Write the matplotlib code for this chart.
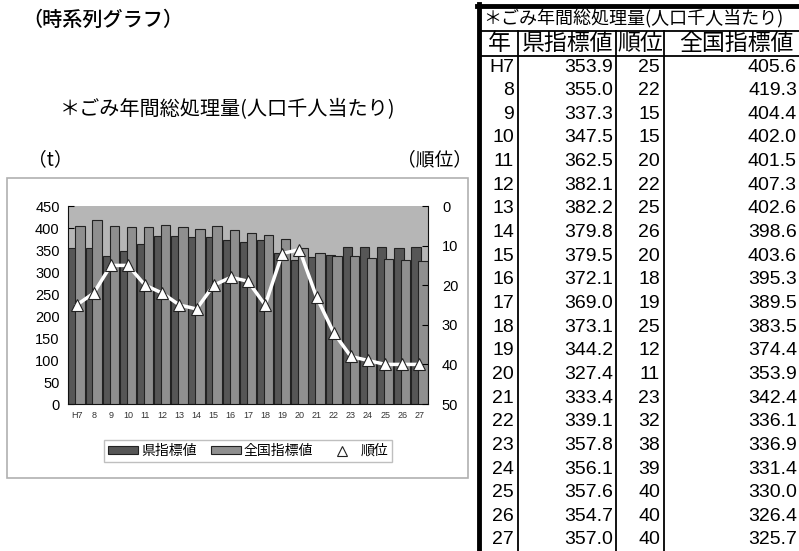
import matplotlib.pyplot as plt
from matplotlib.patches import Rectangle
from matplotlib.lines import Line2D
import numpy as np

plt.rcParams['font.family'] = ['Liberation Sans', 'Noto Sans CJK JP', 'DejaVu Sans']

years = ["H7", "8", "9", "10", "11", "12", "13", "14", "15", "16", "17",
         "18", "19", "20", "21", "22", "23", "24", "25", "26", "27"]
pref = [353.9, 355.0, 337.3, 347.5, 362.5, 382.1, 382.2, 379.8, 379.5, 372.1, 369.0,
        373.1, 344.2, 327.4, 333.4, 339.1, 357.8, 356.1, 357.6, 354.7, 357.0]
rank = [25, 22, 15, 15, 20, 22, 25, 26, 20, 18, 19,
        25, 12, 11, 23, 32, 38, 39, 40, 40, 40]
national = [405.6, 419.3, 404.4, 402.0, 401.5, 407.3, 402.6, 398.6, 403.6, 395.3, 389.5,
            383.5, 374.4, 353.9, 342.4, 336.1, 336.9, 331.4, 330.0, 326.4, 325.7]

W, H = 799, 551
fig = plt.figure(figsize=(W / 100, H / 100), dpi=100)


def fx(x):
    return x / W


def fy(y):
    return 1 - y / H


cjk = ['Noto Sans CJK JP', 'DejaVu Sans']

# headings
fig.text(fx(22), fy(20), "（時系列グラフ）", fontsize=14.5, family=cjk, va='center', weight='medium')
fig.text(fx(60), fy(110), "＊ごみ年間総処理量(人口千人当たり)", fontsize=14.5, family=cjk, va='center')
fig.text(fx(28), fy(160), "（t）", fontsize=13.5, family=cjk, va='center')
fig.text(fx(472), fy(160), "（順位）", fontsize=13.5, family=cjk, va='center', ha='right')

# chart frame
fig.patches.append(Rectangle((fx(7), fy(478)), fx(468) - fx(7), fy(178) - fy(478),
                             transform=fig.transFigure, fill=False, ec='#b0b0b0', lw=1.2))

ax = fig.add_axes([fx(68), fy(404), fx(428) - fx(68), fy(206) - fy(404)])
ax.set_facecolor('#b6b6b6')
x = np.arange(len(years))
ax.bar(x - 0.2, pref, width=0.55, color='#565656', edgecolor='#222222', lw=0.8, zorder=2)
ax.bar(x + 0.2, national, width=0.55, color='#8f8f8f', edgecolor='#222222', lw=0.8, zorder=3)
ax.set_xlim(-0.5, len(years) - 0.5)
ax.set_ylim(0, 450)
ax.set_yticks(range(0, 451, 50))
ax.set_xticks(x)
ax.set_xticklabels(years, fontsize=6.5, color='#333333')
ax.tick_params(axis='y', direction='in', length=4, labelsize=10.5, pad=6)
ax.tick_params(axis='x', length=0, pad=5)
for s in ['top', 'right']:
    ax.spines[s].set_visible(False)
ax.spines['left'].set_color('#111111')
ax.spines['bottom'].set_color('#111111')

ax2 = ax.twinx()
ax2.plot(x, rank, color='white', lw=2.5, marker='^', markersize=9,
         markerfacecolor='white', markeredgecolor='#222222', markeredgewidth=0.8, zorder=5)
ax2.set_ylim(50, 0)
ax2.set_yticks(range(0, 51, 10))
ax2.tick_params(axis='y', direction='in', length=4, labelsize=10.5, pad=10)
for s in ['top', 'left', 'bottom']:
    ax2.spines[s].set_visible(False)
ax2.spines['right'].set_color('#111111')

handles = [Rectangle((0, 0), 1, 1, fc='#565656', ec='#222222', lw=0.8),
           Rectangle((0, 0), 1, 1, fc='#8f8f8f', ec='#222222', lw=0.8),
           Line2D([], [], ls='none', marker='^', markersize=7, mfc='white', mec='#222222', mew=0.8)]
leg = fig.legend(handles, ["県指標値", "全国指標値", "順位"], loc='center',
                 bbox_to_anchor=(fx(248), fy(451)), ncol=3, frameon=True, fancybox=False,
                 prop={'family': cjk, 'size': 10}, handlelength=2.2, handleheight=0.5,
                 columnspacing=1.0, handletextpad=0.2, borderpad=0.3)
leg.get_frame().set_edgecolor('#b0b0b0')
leg.get_frame().set_linewidth(1.0)

# table
tl = dict(transform=fig.transFigure, color='black')
fig.add_artist(Line2D([fx(477), fx(799)], [fy(5.5), fy(5.5)], lw=3.5, **tl))
fig.add_artist(Line2D([fx(479), fx(479)], [fy(4), fy(551)], lw=3.5, **tl))
fig.add_artist(Line2D([fx(479), fx(799)], [fy(30.5), fy(30.5)], lw=1.3, **tl))
fig.add_artist(Line2D([fx(479), fx(799)], [fy(56), fy(56)], lw=1.3, **tl))
for cx in [518, 616, 664]:
    fig.add_artist(Line2D([fx(cx), fx(cx)], [fy(30.5), fy(551)], lw=1.3, **tl))

fig.text(fx(483), fy(18.5), "＊ごみ年間総処理量(人口千人当たり)", fontsize=13, family=cjk,
         va='center')
heads = ["年", "県指標値", "順位", "全国指標値"]
head_x = [499, 568, 640, 736]
for hx, h in zip(head_x, heads):
    fig.text(fx(hx), fy(43), h, fontsize=16.5, family=cjk, va='center', ha='center')

for i in range(len(years)):
    ry = fy(67 + i * 23.65)
    fig.text(fx(514), ry, years[i], fontsize=14, va='center', ha='right')
    fig.text(fx(613), ry, f"{pref[i]:.1f}", fontsize=14, va='center', ha='right')
    fig.text(fx(660), ry, f"{rank[i]}", fontsize=14, va='center', ha='right')
    fig.text(fx(797), ry, f"{national[i]:.1f}", fontsize=14, va='center', ha='right')

fig.savefig("out.png", dpi=100)
